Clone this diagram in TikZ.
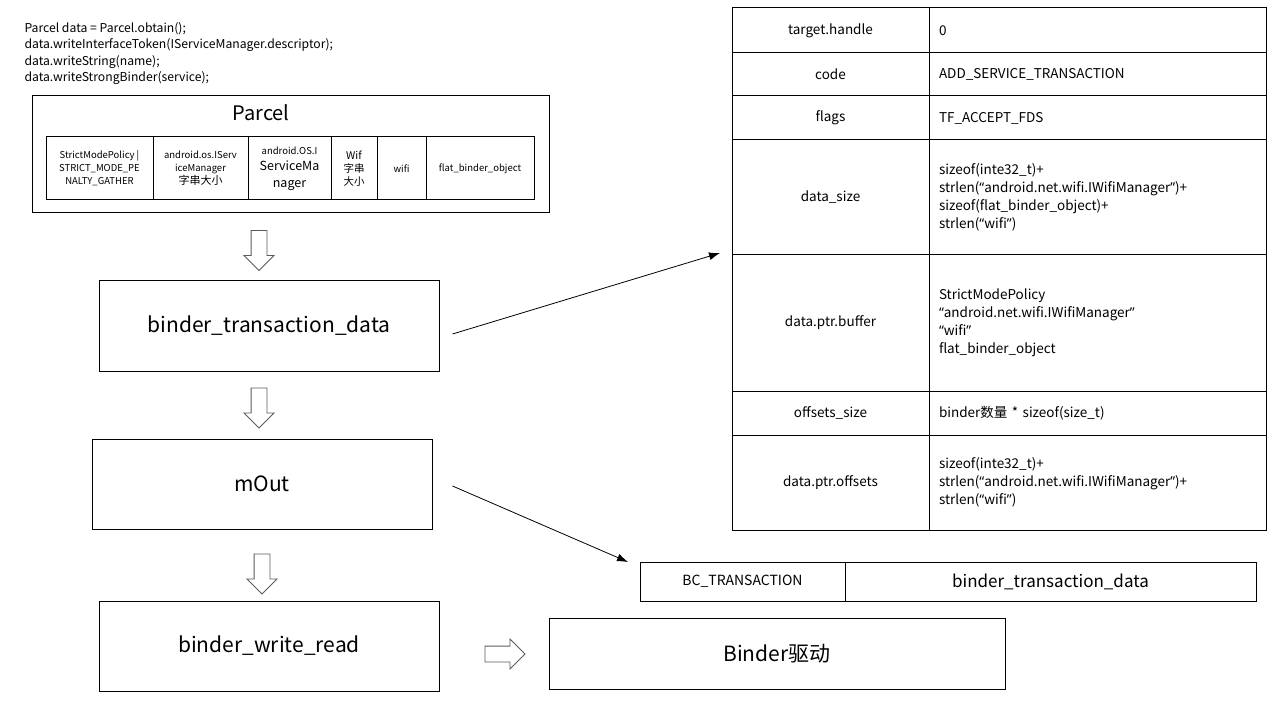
\documentclass[tikz,border=0pt]{standalone}
\usepackage{fontspec}
\setmainfont{Noto Sans CJK SC}
\newfontfamily\qfont{Noto Sans}
\newcommand\oq{{\qfont “}}
\newcommand\cq{{\qfont ”}}
\usepackage{tikz}
\usetikzlibrary{shapes,arrows,arrows.meta,positioning}
\definecolor{arrowgray}{RGB}{90,90,90}

\begin{document}
\begin{tikzpicture}[x=1pt,y=-1pt,line width=1pt,
  box/.style={draw, minimum width=340pt, minimum height=90pt, font=\fontsize{21}{25}\selectfont},
  pcell/.style={draw, minimum height=63pt, inner sep=1pt, align=center, outer sep=0pt, font=\fontsize{9.5}{13}\selectfont},
  lcell/.style={draw, minimum width=197pt, align=center, outer sep=0pt, font=\fontsize{13.5}{18}\selectfont},
  rcell/.style={draw, text width=317pt, inner xsep=10pt, align=left, outer sep=0pt, font=\fontsize{13.5}{18}\selectfont},
  hollow/.style={single arrow, draw=arrowgray, line width=0.8pt, minimum height=40pt, minimum width=29pt, single arrow head extend=7pt, single arrow head indent=0pt, inner sep=7.5pt},
  link/.style={-{Latex[length=11pt,width=8pt]}, line width=0.8pt}]
\useasboundingbox (0,0) rectangle (1283,714);

% code that fills the parcel
\node[anchor=north west, align=left, inner sep=0pt, font=\fontsize{12.2}{16.3}\selectfont] (code) at (24,22)
  {Parcel data = Parcel.obtain();\\
   data.writeInterfaceToken(IServiceManager.descriptor);\\
   data.writeString(name);\\
   data.writeStrongBinder(service);};

% Parcel box and its cells
\node[draw, minimum width=517pt, minimum height=117pt, outer sep=0pt] (parcel) at (290.5,154.5) {};
\node[font=\fontsize{20}{24}\selectfont] (ptitle) at (261,113) {Parcel};
\node[pcell, minimum width=107pt, anchor=north west] (p1) at (46,137) {StrictModePolicy |\\STRICT\_MODE\_PE\\NALTY\_GATHER};
\node[pcell, minimum width=95pt, right=0pt of p1] (p2) {android.os.IServ\\iceManager\\{\fontsize{11}{14}\selectfont 字串大小}};
\node[pcell, minimum width=83pt, right=0pt of p2, font=\fontsize{12.5}{16.5}\selectfont] (p3) {{\fontsize{9.5}{12}\selectfont android.OS.I}\\ServiceMa\\nager};
\node[pcell, minimum width=46pt, right=0pt of p3, font=\fontsize{10.5}{13}\selectfont] (p4) {Wif\\字串\\大小};
\node[pcell, minimum width=49pt, right=0pt of p4] (p5) {wifi};
\node[pcell, minimum width=108pt, right=0pt of p5] (p6) {flat\_binder\_object};

% left column
\node[hollow, shape border rotate=270] (down1) at (259,246.5) {};
\node[box] (btd) at (269,326) {binder\_transaction\_data};
\node[hollow, shape border rotate=270] (down2) at (259,404) {};
\node[box] (mout) at (262,484) {mOut};
\node[hollow, shape border rotate=270] (down3) at (262,570) {};
\node[box] (bwr) at (269,646) {binder\_write\_read};
\node[hollow, minimum width=28pt] (right1) at (501,654) {};
\node[draw, minimum width=456pt, minimum height=71pt, font=\fontsize{21}{25}\selectfont] (driver) at (777,653.5) {Binder驱动};

% command written into mOut
\node[draw, minimum width=205pt, minimum height=39pt, outer sep=0pt, anchor=north west, font=\fontsize{14}{17}\selectfont] (bc) at (640,562) {BC\_TRANSACTION};
\node[draw, minimum width=411pt, minimum height=39pt, outer sep=0pt, right=0pt of bc, font=\fontsize{17}{20}\selectfont] (bctd) {binder\_transaction\_data};

% binder_transaction_data fields
\node[lcell, minimum height=45pt, anchor=north west] (t1) at (732,8) {target.handle};
\node[lcell, minimum height=43pt, below=0pt of t1] (t2) {code};
\node[lcell, minimum height=44pt, below=0pt of t2] (t3) {flags};
\node[lcell, minimum height=115pt, below=0pt of t3] (t4) {data\_size};
\node[lcell, minimum height=136pt, below=0pt of t4] (t5) {data.ptr.buffer};
\node[lcell, minimum height=44pt, below=0pt of t5] (t6) {offsets\_size};
\node[lcell, minimum height=95pt, below=0pt of t6] (t7) {data.ptr.offsets};
\node[rcell, minimum height=45pt, right=0pt of t1] (r1) {0};
\node[rcell, minimum height=43pt, right=0pt of t2] (r2) {ADD\_SERVICE\_TRANSACTION};
\node[rcell, minimum height=44pt, right=0pt of t3] (r3) {TF\_ACCEPT\_FDS};
\node[rcell, minimum height=115pt, right=0pt of t4] (r4) {sizeof(inte32\_t)+\\strlen(\oq android.net.wifi.IWifiManager\cq)+\\sizeof(flat\_binder\_object)+\\strlen(\oq wifi\cq)};
\node[rcell, minimum height=136pt, right=0pt of t5] (r5) {StrictModePolicy\\\oq android.net.wifi.IWifiManager\cq\\\oq wifi\cq\\flat\_binder\_object};
\node[rcell, minimum height=44pt, right=0pt of t6] (r6) {binder数量 * sizeof(size\_t)};
\node[rcell, minimum height=95pt, right=0pt of t7] (r7) {sizeof(inte32\_t)+\\strlen(\oq android.net.wifi.IWifiManager\cq)+\\strlen(\oq wifi\cq)};

% connectors
\draw[link] ([xshift=13pt,yshift=-8pt]btd.east) -- ([xshift=-12pt,yshift=2pt]t4.south west);
\draw[link] ([xshift=20pt,yshift=-2pt]mout.east) -- ([xshift=-12pt]bc.north west);
\end{tikzpicture}
\end{document}
